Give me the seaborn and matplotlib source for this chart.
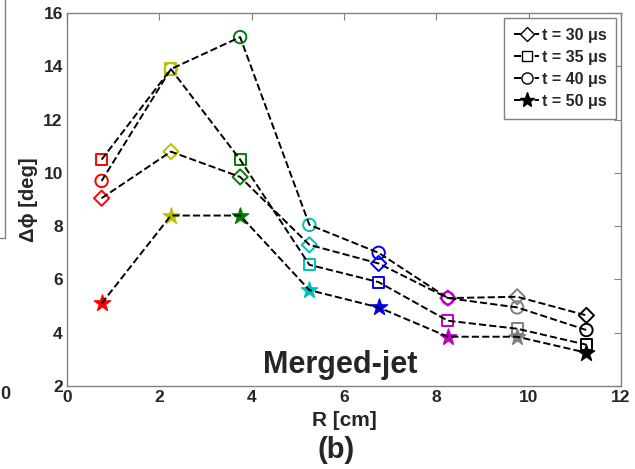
import pandas as pd
import seaborn as sns
import matplotlib.pyplot as plt
from matplotlib.lines import Line2D

# Data
radius = [0.75, 2.25, 3.75, 5.25, 6.75, 8.25, 9.75, 11.25]
dphi_30 = [9.05, 10.8, 9.85, 7.3, 6.6, 5.3, 5.35, 4.65]
dphi_35 = [10.5, 13.9, 10.5, 6.55, 5.9, 4.45, 4.15, 3.55]
dphi_40 = [9.7, 13.9, 15.1, 8.05, 7.0, 5.3, 4.95, 4.1]
dphi_50 = [5.1, 8.4, 8.4, 5.6, 4.95, 3.85, 3.85, 3.25]
labels = ['t = 30 \u03bcs', 't = 35 \u03bcs', 't = 40 \u03bcs', 't = 50 \u03bcs']
point_colors = ['#ff0000', '#bfbf00', '#008000', '#00bfbf',
                '#0000ff', '#bf00bf', '#808080', '#000000']

sns.set_style('white')
plt.rcParams['font.family'] = ['Liberation Sans', 'DejaVu Sans']
plt.rcParams['font.weight'] = 'bold'

fig = plt.figure(figsize=(6.35, 4.69), dpi=100)
ax = fig.add_axes([0.1055, 0.177, 0.8725, 0.795])

series = [dphi_30, dphi_35, dphi_40, dphi_50]
markers = ['D', 's', 'o', '*']
sizes = [60, 65, 80, 150]

for vals, mk, sz in zip(series, markers, sizes):
    df = pd.DataFrame({'R': radius, 'dphi': vals})
    sns.lineplot(data=df, x='R', y='dphi', ax=ax, color='black',
                 linestyle='--', linewidth=1.4, zorder=3)
    for (_, row), c in zip(df.iterrows(), point_colors):
        if mk == '*':
            ax.scatter(row['R'], row['dphi'], marker=mk, s=sz, facecolor=c,
                       edgecolor=c, linewidth=1, zorder=2)
        else:
            ax.scatter(row['R'], row['dphi'], marker=mk, s=sz, facecolor='none',
                       edgecolor=c, linewidth=1.4, zorder=2)

ax.set_xlim(0, 12)
ax.set_ylim(2, 16)
ax.set_xticks(range(0, 13, 2))
ax.set_yticks(range(2, 17, 2))
ax.tick_params(direction='in', length=5, color='#808080', labelsize=12.5,
               top=True, right=True, pad=3)
for lab in ax.get_xticklabels() + ax.get_yticklabels():
    lab.set_fontweight('bold')
for sp in ax.spines.values():
    sp.set_color('#808080')
    sp.set_linewidth(1.0)

ax.set_xlabel('R [cm]', fontsize=15, fontweight='bold', labelpad=4)
ax.set_ylabel('\u0394\u03d5 [deg]', fontsize=14.5, fontweight='bold', labelpad=4)

ax.text(5.92, 2.8, 'Merged-jet', fontsize=22, fontweight='bold',
        ha='center', va='center')
fig.text(0.53, 0.04, '(b)', fontsize=21, fontweight='bold',
         ha='center', va='center')

handles = [Line2D([], [], color='black', linestyle='--', linewidth=1.4,
                  marker=m, markersize=ms, markerfacecolor=fc,
                  markeredgecolor='black')
           for m, ms, fc in zip(markers, [7, 7, 8, 11],
                                ['white', 'white', 'white', 'black'])]
leg = ax.legend(handles, labels, loc='upper right', fontsize=11.5,
                handlelength=1.6, handletextpad=0.15, borderpad=0.6,
                labelspacing=0.45, fancybox=False, framealpha=1,
                edgecolor='#808080', borderaxespad=0.3)
for t in leg.get_texts():
    t.set_fontweight('bold')

# fragments of the neighbouring panel at the left edge
fig.add_artist(Line2D([0.008, 0.008], [1.0, 0.493], color='#808080', linewidth=1))
fig.add_artist(Line2D([0.0, 0.008], [0.493, 0.493], color='#808080', linewidth=1))
fig.text(0.008, 0.158, '0', fontsize=13, fontweight='bold', ha='center', va='center')

fig.savefig('out.png', dpi=100)
